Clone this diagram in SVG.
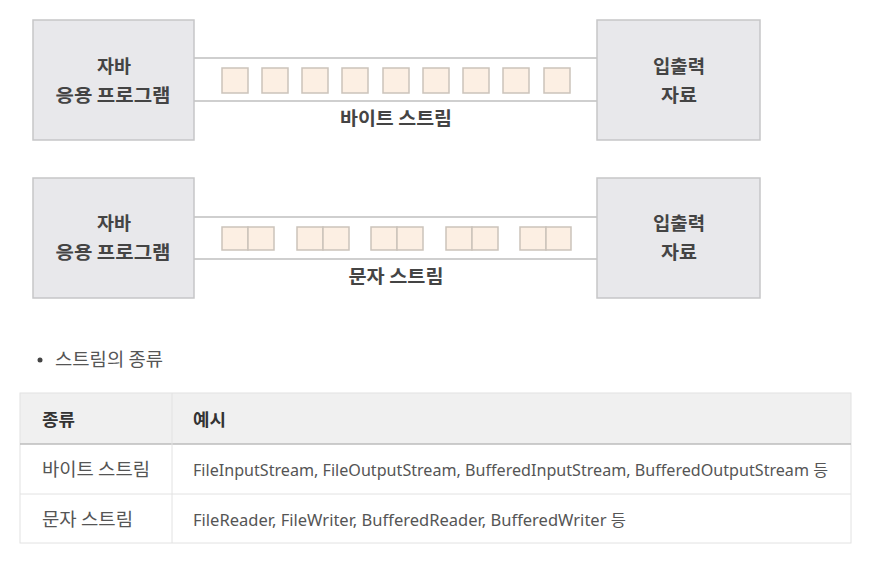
<svg xmlns="http://www.w3.org/2000/svg" width="869" height="562" viewBox="0 0 869 562">
<style>
.box{fill:#e8e8eb;stroke:#c6c6c8;stroke-width:1.5}
.pipe{stroke:#cfcfcf;stroke-width:2;fill:none}
.sq{fill:#fcefe3;stroke:#cbc3bb;stroke-width:1.5}
.bt{font-family:"Noto Sans CJK KR","Noto Sans",sans-serif;font-size:18.5px;font-weight:bold;fill:#444;text-anchor:middle}
.t{font-family:"Noto Sans","Noto Sans CJK KR",sans-serif;font-size:16.3px;fill:#555}
.k{font-family:"Noto Sans CJK KR","Noto Sans",sans-serif;font-size:18px;fill:#555}
.th{font-family:"Noto Sans CJK KR","Noto Sans",sans-serif;font-size:17px;font-weight:bold;fill:#333}
</style>
<rect width="869" height="562" fill="#fff"/>
<g id="connectors">
<line class="pipe" x1="194" y1="58" x2="597" y2="58"/>
<line class="pipe" x1="194" y1="101" x2="597" y2="101"/>
<line class="pipe" x1="194" y1="217" x2="597" y2="217"/>
<line class="pipe" x1="194" y1="259" x2="597" y2="259"/>
</g>
<g id="app1"><rect class="box" x="33" y="20" width="161" height="120"/>
<text class="bt" x="114" y="73" textLength="34" lengthAdjust="spacingAndGlyphs">자바</text><text class="bt" x="113" y="102" textLength="115" lengthAdjust="spacingAndGlyphs">응용 프로그램</text></g>
<g id="io1"><rect class="box" x="597" y="20" width="163" height="120"/>
<text class="bt" x="679" y="73" textLength="52" lengthAdjust="spacingAndGlyphs">입출력</text><text class="bt" x="679" y="102" textLength="36" lengthAdjust="spacingAndGlyphs">자료</text></g>
<g id="app2"><rect class="box" x="33" y="178" width="161" height="120"/>
<text class="bt" x="114" y="230" textLength="34" lengthAdjust="spacingAndGlyphs">자바</text><text class="bt" x="113" y="259" textLength="115" lengthAdjust="spacingAndGlyphs">응용 프로그램</text></g>
<g id="io2"><rect class="box" x="597" y="178" width="163" height="120"/>
<text class="bt" x="679" y="230" textLength="52" lengthAdjust="spacingAndGlyphs">입출력</text><text class="bt" x="679" y="259" textLength="36" lengthAdjust="spacingAndGlyphs">자료</text></g>
<g id="bytes">
<rect class="sq" x="222" y="68" width="26" height="25"/>
<rect class="sq" x="262" y="68" width="26" height="25"/>
<rect class="sq" x="302" y="68" width="26" height="25"/>
<rect class="sq" x="342" y="68" width="26" height="25"/>
<rect class="sq" x="383" y="68" width="26" height="25"/>
<rect class="sq" x="423" y="68" width="26" height="25"/>
<rect class="sq" x="463" y="68" width="26" height="25"/>
<rect class="sq" x="503" y="68" width="26" height="25"/>
<rect class="sq" x="544" y="68" width="26" height="25"/>
<text class="bt" x="396" y="125" textLength="112" lengthAdjust="spacingAndGlyphs">바이트 스트림</text>
</g>
<g id="chars">
<rect class="sq" x="222" y="227" width="26" height="23"/><rect class="sq" x="248" y="227" width="26" height="23"/>
<rect class="sq" x="297" y="227" width="26" height="23"/><rect class="sq" x="323" y="227" width="26" height="23"/>
<rect class="sq" x="371" y="227" width="26" height="23"/><rect class="sq" x="397" y="227" width="26" height="23"/>
<rect class="sq" x="446" y="227" width="26" height="23"/><rect class="sq" x="472" y="227" width="26" height="23"/>
<rect class="sq" x="520" y="227" width="26" height="23"/><rect class="sq" x="546" y="227" width="25" height="23"/>
<text class="bt" x="396" y="283" textLength="95" lengthAdjust="spacingAndGlyphs">문자 스트림</text>
</g>
<g id="bullet">
<circle cx="40" cy="360" r="2.5" fill="#444"/>
<text class="k" x="55" y="366" textLength="108" lengthAdjust="spacingAndGlyphs">스트림의 종류</text>
</g>
<g id="table">
<rect x="20" y="393" width="831" height="51" fill="#f0f0f0"/>
<rect x="20" y="393" width="831" height="150" fill="none" stroke="#e2e2e2" stroke-width="1"/>
<line x1="20" y1="444" x2="851" y2="444" stroke="#bdbdbd" stroke-width="1.5"/>
<line x1="20" y1="494" x2="851" y2="494" stroke="#e2e2e2" stroke-width="1"/>
<line x1="172" y1="393" x2="172" y2="543" stroke="#e2e2e2" stroke-width="1"/>
<text class="th" x="42" y="426" textLength="33" lengthAdjust="spacingAndGlyphs">종류</text>
<text class="th" x="193" y="426" textLength="33" lengthAdjust="spacingAndGlyphs">예시</text>
<text class="k" x="42" y="476" textLength="108" lengthAdjust="spacingAndGlyphs">바이트 스트림</text>
<text class="t" x="193" y="476" textLength="635" lengthAdjust="spacingAndGlyphs">FileInputStream, FileOutputStream, BufferedInputStream, BufferedOutputStream 등</text>
<text class="k" x="42" y="526" textLength="91" lengthAdjust="spacingAndGlyphs">문자 스트림</text>
<text class="t" x="193" y="526" textLength="433" lengthAdjust="spacingAndGlyphs">FileReader, FileWriter, BufferedReader, BufferedWriter 등</text>
</g>
</svg>
